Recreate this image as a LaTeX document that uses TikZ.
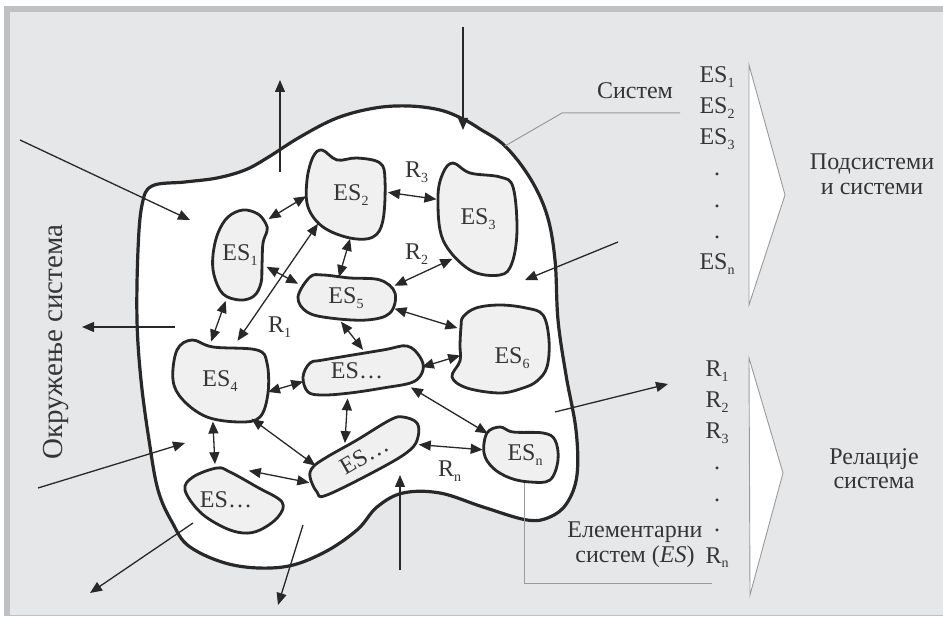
\documentclass[tikz,border=0pt]{standalone}
\usepackage{fontspec}
\setmainfont{Liberation Serif}
\usetikzlibrary{arrows.meta,shapes.geometric}
\definecolor{panel}{HTML}{E6E7E9}
\definecolor{paneledge}{HTML}{BFC0C2}
\definecolor{outl}{HTML}{282828}
\definecolor{blobfill}{HTML}{F0F0F0}
\definecolor{txt}{HTML}{353535}
\definecolor{leadgray}{HTML}{9A9A9A}
\newcommand\lowsub[1]{\raisebox{-0.45ex}{\fontsize{14}{14}\selectfont #1}}
\newcommand\labfont{\fontsize{24}{28}\selectfont}
\begin{document}
\begin{tikzpicture}[x=1pt,y=-1pt,
  boundary/.style={draw=outl, line width=3.2pt, fill=white, line join=round},
  blob/.style={draw=outl, line width=2.8pt, fill=blobfill, line join=round},
  esnode/.style={ellipse, inner sep=0pt, outer sep=0pt, font=\labfont, text=txt},
  lab/.style={font=\labfont, text=txt, inner sep=0pt},
  link/.style={draw=outl, line width=1.3pt,
    {Triangle[length=12pt,width=10pt]}-{Triangle[length=12pt,width=10pt]}},
  envarrow/.style={draw=outl, line width=1.3pt, -{Triangle[length=12pt,width=10pt]}},
  leader/.style={draw=leadgray, line width=1pt},
  chev/.style={draw=leadgray, line width=0.9pt, fill=white, line join=miter}]
\useasboundingbox (0,0) rectangle (943,617);
% panel and its border
\fill[white] (0,0) rectangle (943,617);
\fill[panel] (4,6) rectangle (943,615);
\fill[paneledge] (4,6) rectangle (943,12);
\fill[paneledge] (4,6) rectangle (10,615);
\draw[paneledge, line width=1pt] (4,615) -- (943,615);

% outer boundary of the system
\draw[boundary] plot[smooth cycle, tension=0.6] coordinates {
  (152,186) (185,182) (217,178) (245,170) (267,158) (300,137) (337,118)
  (375,108) (409,106) (440,110) (463,119) (480,129) (505,146) (530,178)
  (547,215) (555,260) (558,320) (566,375) (576,430) (577,475) (567,503)
  (550,517) (527,520) (483,507) (440,493) (403,493) (377,507) (357,530)
  (323,553) (283,567) (233,565) (190,547) (172,522) (158,490) (149,440)
  (141,380) (137,320) (138,250) (142,205)};

% elementary systems
\begin{scope}[shift={(240,255)}]
\draw[blob] plot[smooth cycle, tension=0.6] coordinates {(3,-45) (18,-41) (26,-31)
  (27,-24) (23,-12) (22,10) (21,28) (14,41) (0,45) (-17,39) (-26,20) (-27,0)
  (-22,-22) (-12,-38)};
\end{scope}
\begin{scope}[shift={(347,195)}]
\draw[blob] plot[smooth cycle, tension=0.6] coordinates {(-25,-45) (-10,-35) (10,-37)
  (33,-32) (38,-15) (36,25) (26,42) (3,43) (-24,32) (-39,12) (-40,-15) (-34,-38)};
\end{scope}
\begin{scope}[shift={(478,219)}]
\draw[blob] plot[smooth cycle, tension=0.6] coordinates {(-25,-56) (-8,-46) (22,-42)
  (35,-32) (39,11) (34,44) (22,56) (-8,51) (-35,21) (-40,-22) (-35,-46)};
\end{scope}
\begin{scope}[shift={(346,298)}]
\draw[blob] plot[smooth cycle, tension=0.6] coordinates {(-48,-1) (-36,-21) (-23,-23)
  (4,-20) (34,-18) (49,-5) (44,15) (21,22) (-16,20) (-39,14)};
\end{scope}
\begin{scope}[shift={(220,381)}]
\draw[blob] plot[smooth cycle, tension=0.6] coordinates {(-28,-41) (-7,-34) (37,-31)
  (47,-18) (48,12) (40,36) (20,41) (-13,36) (-37,19) (-47,-1) (-43,-31)};
\end{scope}
\begin{scope}[shift={(363,371)}]
\draw[blob] plot[smooth cycle, tension=0.6] coordinates {(-60,6) (-53,-8) (-40,-11)
  (20,-21) (44,-25) (57,-14) (60,-1) (50,11) (20,17) (-13,22) (-40,24) (-55,21)};
\end{scope}
\begin{scope}[shift={(501,351)}]
\draw[blob] plot[smooth cycle, tension=0.6] coordinates {(-38,-34) (-25,-43) (-1,-46)
  (25,-43) (42,-36) (48,-11) (46,16) (36,30) (22,37) (-1,42) (-34,37) (-49,26)
  (-41,10) (-41,-6) (-40,-24)};
\end{scope}
\begin{scope}[shift={(364,456)}]
\draw[blob] plot[smooth cycle, tension=0.6] coordinates {(-54,21) (-47,36) (-37,39)
  (19,11) (46,-6) (54,-19) (53,-33) (39,-39) (26,-36) (-7,-16) (-37,1) (-51,11)};
\end{scope}
\begin{scope}[shift={(520,455)}]
\draw[blob] plot[smooth cycle, tension=0.6] coordinates {(-33,-22) (-20,-28) (-7,-23)
  (23,-22) (35,-15) (38,5) (30,25) (10,27) (-10,23) (-27,13) (-36,-2)};
\end{scope}
\begin{scope}[shift={(233,500)}]
\draw[blob] plot[smooth cycle, tension=0.6] coordinates {(-40,-23) (-16,-32) (-3,-28)
  (24,-13) (49,2) (45,17) (27,30) (10,33) (-10,27) (-33,12) (-48,-10)};
\end{scope}

% labels of the elementary systems
\node[esnode, minimum width=55, minimum height=90] (es1) at (240,255) {ES\lowsub1};
\node[esnode, minimum width=80, minimum height=88] (es2) at (347,195) {\hspace*{8pt}ES\lowsub2};
\node[esnode, minimum width=80, minimum height=112] (es3) at (478,219) {ES\lowsub3};
\node[esnode, minimum width=98, minimum height=46] (es5) at (346,298) {ES\lowsub5};
\node[esnode, minimum width=96, minimum height=82] (es4) at (220,381) {ES\lowsub4};
\node[esnode, minimum width=122, minimum height=42, rotate=8] (esm) at (363,371)
  {\rotatebox{-8}{ES…\hspace*{12pt}}};
\node[esnode, minimum width=98, minimum height=92, text height=30pt] (es6) at (501,351)
  {\hspace*{22pt}ES\lowsub6};
\node[esnode, minimum width=124, minimum height=42, rotate=30] (esl) at (364,456) {ES…};
\node[esnode, minimum width=76, minimum height=56] (esn) at (520,455) {\hspace*{10pt}ES\lowsub{n}};
\node[esnode, minimum width=100, minimum height=66] (esb) at (233,500) {ES…\hspace*{14pt}};

% relations between elementary systems
\draw[link, shorten <=10pt, shorten >=1pt] (es1.57) -- (es2.181);
\draw[link, shorten <=1pt, shorten >=4pt] (es2.4) -- (es3.153);
\draw[link, shorten >=-2pt] (es2.-86) -- (es5.106);
\draw[link, shorten >=6pt] (es1.-24) -- (es5.165);
\draw[link, shorten <=-2pt, shorten >=5pt] (es3.236) -- (es5.13);
\draw[link, shorten <=2pt, shorten >=-1pt] (es4.67) -- (es2.225);
\draw[link, shorten <=6pt, shorten >=-1pt] (es1.253) -- (es4.102);
\draw[link, shorten <=1pt] (es5.256) -- (esm.82);
\draw[link, shorten <=4pt, shorten >=1pt] (es5.-12) -- (es6.152);
\draw[link, shorten <=2pt] (es4.-14) -- (esm.182);
\draw[link, shorten <=-1pt, shorten >=-8pt] (esm.-4) -- (es6.188);
\draw[link, shorten <=5pt] (esm.228) -- (esl.116);
\draw[link, shorten <=10pt, shorten >=5pt] (esm.-24) -- (esn.146);
\draw[link, shorten <=6pt, shorten >=2pt] (es4.-52) -- (esl.163);
\draw[link, shorten >=5pt] (es4.260) -- (esb.120);
\draw[link, shorten <=-14pt] (esb.42) -- (esl.176);
\draw[link, shorten <=7pt] (esl.-16) -- (esn.172);

\node[lab, anchor=base west] (r3) at (405,178) {R\lowsub3};
\node[lab, anchor=base west] (r2) at (405,260) {R\lowsub2};
\node[lab, anchor=base west] (r1) at (268,333) {R\lowsub1};
\node[lab, anchor=base west] (rn) at (438,477) {R\lowsub{n}};

% exchanges with the environment
\coordinate (ina1) at (20,140);   \coordinate (ina2) at (190,220);
\coordinate (upa1) at (280,172);  \coordinate (upa2) at (280,80);
\coordinate (dna1) at (463,27);   \coordinate (dna2) at (463,130);
\coordinate (lfa1) at (175,327);  \coordinate (lfa2) at (82,327);
\coordinate (inb1) at (38,488);   \coordinate (inb2) at (185,443);
\coordinate (outb1) at (193,523); \coordinate (outb2) at (90,593);
\coordinate (outc1) at (303,525); \coordinate (outc2) at (278,605);
\coordinate (upb1) at (400,570);  \coordinate (upb2) at (400,475);
\coordinate (rta1) at (555,412);  \coordinate (rta2) at (668,384);
\coordinate (inc1) at (618,242);  \coordinate (inc2) at (525,280);
\draw[envarrow] (ina1) -- (ina2);
\draw[envarrow] (upa1) -- (upa2);
\draw[envarrow] (dna1) -- (dna2);
\draw[envarrow] (lfa1) -- (lfa2);
\draw[envarrow] (inb1) -- (inb2);
\draw[envarrow] (outb1) -- (outb2);
\draw[envarrow] (outc1) -- (outc2);
\draw[envarrow] (upb1) -- (upb2);
\draw[envarrow] (rta1) -- (rta2);
\draw[envarrow] (inc1) -- (inc2);

\node[rotate=90, anchor=base, font=\fontsize{29}{34}\selectfont, text=txt, inner sep=0pt]
  (env) at (62,342) {Окружење система};

% callouts
\coordinate (sysedge) at (505,146);
\coordinate (sysbend) at (562,113);
\coordinate (sysend) at (680,113);
\draw[leader] (sysedge) -- (sysbend) -- (sysend);
\node[lab, anchor=base] (sys) at (635,99) {Систем};
\coordinate (esend) at (712,583);
\draw[leader] (esn.-80) |- (esend);
\node[lab, anchor=base] (el1) at (635,537) {Елементарни};
\node[lab, anchor=base] (el2) at (635,562) {систем (\textit{ES})};

% lists and the two summarising arrows
\draw[chev] (749,65) -- (785,195) -- (749,305) -- cycle;
\draw[chev] (749,358) -- (783,473) -- (750,595) -- cycle;

\node[lab, anchor=base] (l1) at (717,83) {ES\lowsub1};
\node[lab, anchor=base] (l2) at (717,114) {ES\lowsub2};
\node[lab, anchor=base] (l3) at (717,145) {ES\lowsub3};
\node[lab, anchor=base] (l4) at (717,176) {.};
\node[lab, anchor=base] (l5) at (717,208) {.};
\node[lab, anchor=base] (l6) at (717,239) {.};
\node[lab, anchor=base] (l7) at (717,270) {ES\lowsub{n}};

\node[lab, anchor=base] (m1) at (717,377) {R\lowsub1};
\node[lab, anchor=base] (m2) at (717,408) {R\lowsub2};
\node[lab, anchor=base] (m3) at (717,439) {R\lowsub3};
\node[lab, anchor=base] (m4) at (717,470) {.};
\node[lab, anchor=base] (m5) at (717,501) {.};
\node[lab, anchor=base] (m6) at (717,532) {.};
\node[lab, anchor=base] (m7) at (717,563) {R\lowsub{n}};

\node[lab, anchor=base] (sub1) at (872,170) {Подсистеми};
\node[lab, anchor=base] (sub2) at (872,195) {и системи};
\node[lab, anchor=base] (rel1) at (874,465) {Релације};
\node[lab, anchor=base] (rel2) at (874,489) {система};
\end{tikzpicture}
\end{document}
